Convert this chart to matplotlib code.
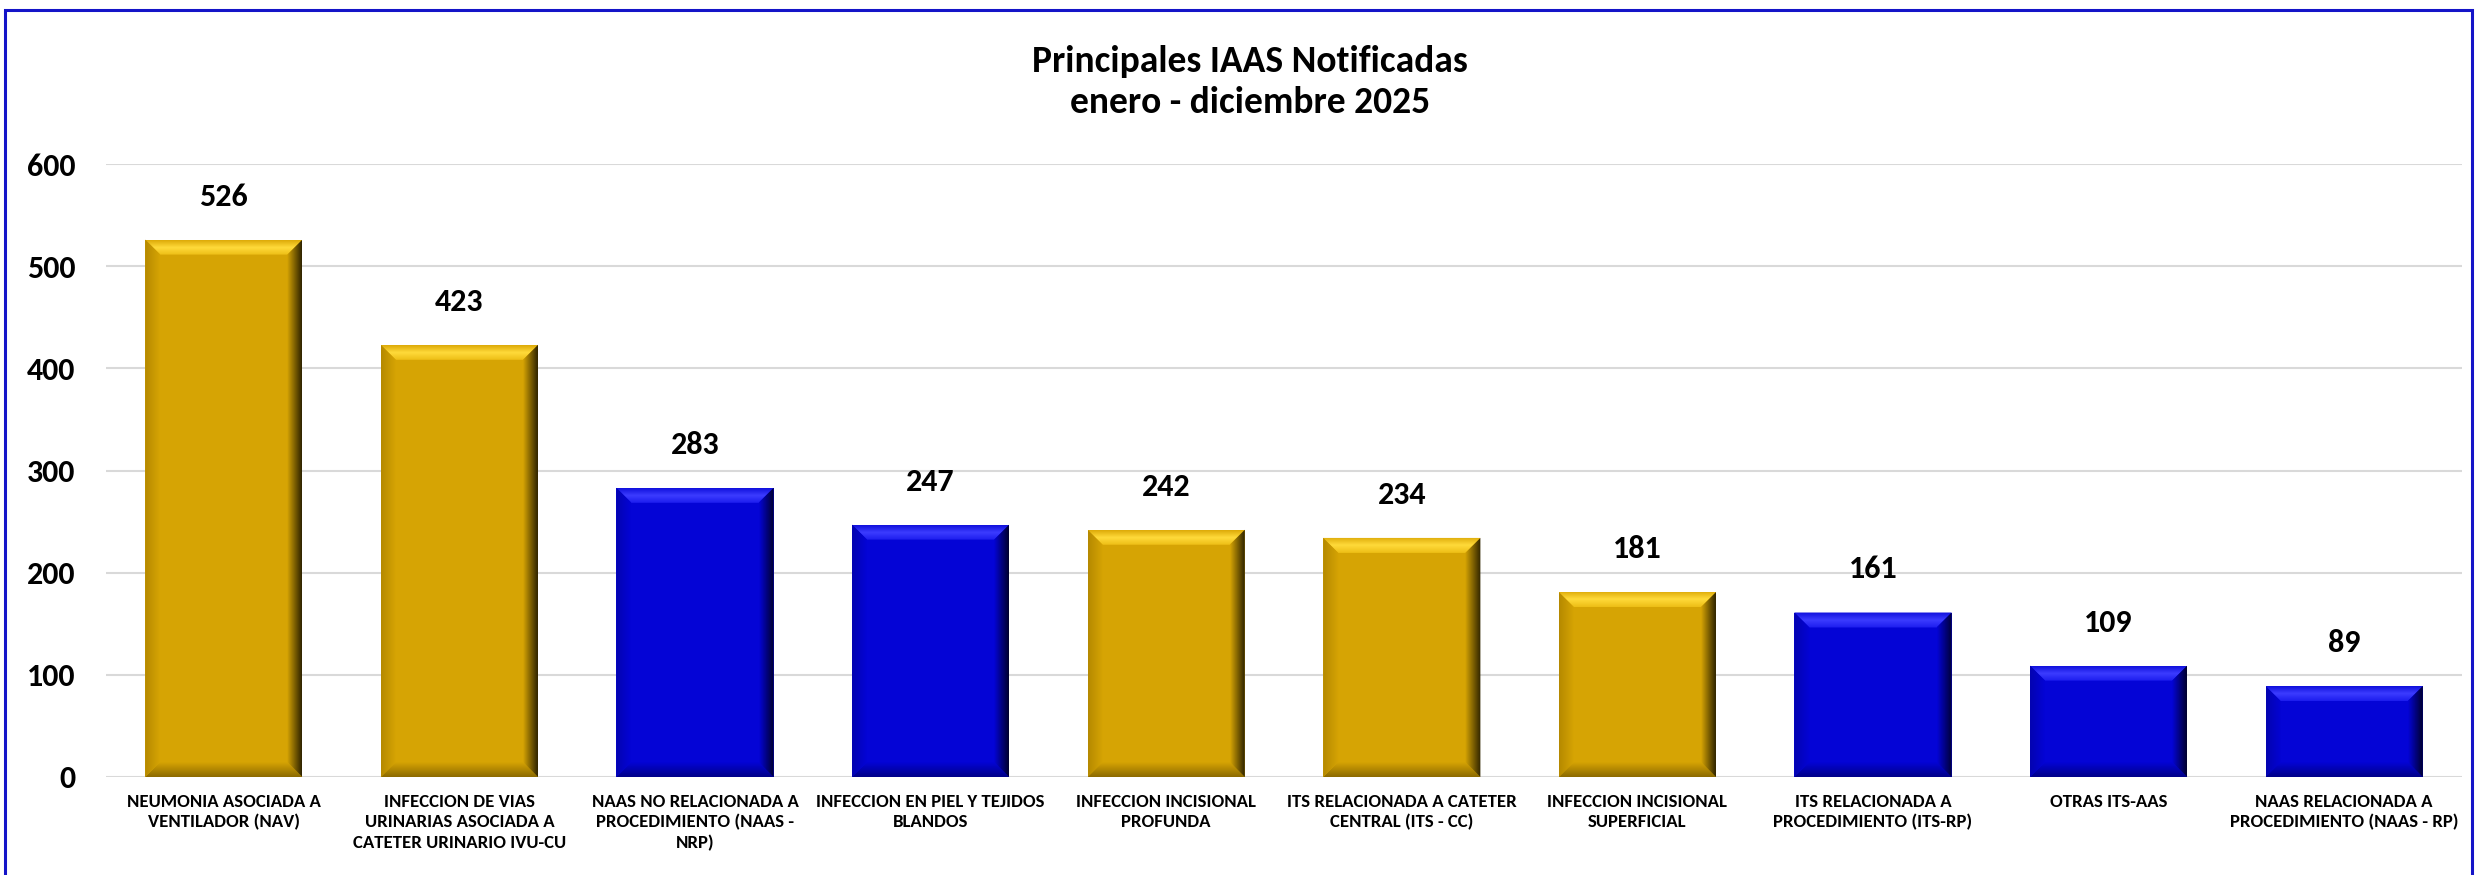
import numpy as np
import matplotlib.pyplot as plt
from matplotlib.patches import Polygon, Rectangle
from matplotlib.colors import to_rgb

# ---- data ----
categorias = [
    "NEUMONIA ASOCIADA A\nVENTILADOR (NAV)",
    "INFECCION DE VIAS\nURINARIAS ASOCIADA A\nCATETER URINARIO IVU-CU",
    "NAAS NO RELACIONADA A\nPROCEDIMIENTO (NAAS -\nNRP)",
    "INFECCION EN PIEL Y TEJIDOS\nBLANDOS",
    "INFECCION INCISIONAL\nPROFUNDA",
    "ITS RELACIONADA A CATETER\nCENTRAL (ITS - CC)",
    "INFECCION INCISIONAL\nSUPERFICIAL",
    "ITS RELACIONADA A\nPROCEDIMIENTO (ITS-RP)",
    "OTRAS ITS-AAS",
    "NAAS RELACIONADA A\nPROCEDIMIENTO (NAAS - RP)",
]
casos = [526, 423, 283, 247, 242, 234, 181, 161, 109, 89]
grupo = ['oro', 'oro', 'azul', 'azul', 'oro', 'oro', 'oro', 'azul', 'azul', 'azul']
yticks = [0, 100, 200, 300, 400, 500, 600]

# paleta: cara, bisel superior (interior, medio, borde), bisel derecho oscuro, inferior, izquierdo
paleta = {
    'oro':  dict(face='#D6A404', top=('#EDBE16', '#FFDA3A', '#DDAA08'),
                 right='#2E2300', bottom='#8C6A00', left='#B58900'),
    'azul': dict(face='#0404D6', top=('#1C1CEE', '#3C3CFF', '#1010DC'),
                 right='#00002E', bottom='#000088', left='#0303B0'),
}

TXT = ['Carlito', 'Lato', 'DejaVu Sans']
CAT = ['Carlito', 'Fira Sans Condensed', 'DejaVu Sans']

W, H = 2476, 875
fig = plt.figure(figsize=(W / 100, H / 100), dpi=100)
ax = fig.add_axes([106 / W, 98 / H, (2462 - 106) / W, (777 - 164) / H])

x = np.arange(len(casos))
ancho = 0.667
bars = ax.bar(x, casos, ancho, color=[paleta[g]['face'] for g in grupo],
              edgecolor='none', zorder=2)

ax.set_xlim(-0.5, len(casos) - 0.5)
ax.set_ylim(0, 600)
ax.set_autoscale_on(False)

# ---- bisel 3D (estilo Excel) ----
px_x = (2462 - 106) / len(casos)   # px por unidad x
px_y = (777 - 164) / 600           # px por unidad y
bx = 15 / px_x
by = 15 / px_y


def degradado(poly_xy, stops, extent, vertical):
    poly = Polygon(poly_xy, closed=True, facecolor='none', edgecolor='none')
    ax.add_patch(poly)
    n = 64
    t = np.linspace(0, 1, n)
    cols = np.array([to_rgb(c) for c in stops])
    pos = np.linspace(0, 1, len(stops))
    img = np.stack([np.interp(t, pos, cols[:, k]) for k in range(3)], axis=-1)
    img = img[:, None, :] if vertical else img[None, :, :]
    im = ax.imshow(img, extent=extent, origin='lower', aspect='auto',
                   interpolation='bilinear', zorder=3)
    im.set_clip_path(poly)


for b, g in zip(bars, grupo):
    p = paleta[g]
    x0, x1 = b.get_x(), b.get_x() + b.get_width()
    top = b.get_height()
    # superior
    degradado([(x0, top), (x1, top), (x1 - bx, top - by), (x0 + bx, top - by)],
              [p['top'][0], p['top'][1], p['top'][2]], (x0, x1, top - by, top), True)
    # inferior
    degradado([(x0, 0), (x1, 0), (x1 - bx, by), (x0 + bx, by)],
              [p['bottom'], p['face']], (x0, x1, 0, by), True)
    # derecho
    degradado([(x1, 0), (x1, top), (x1 - bx, top - by), (x1 - bx, by)],
              [p['face'], p['right']], (x1 - bx, x1, 0, top), False)
    # izquierdo
    degradado([(x0, 0), (x0, top), (x0 + bx, top - by), (x0 + bx, by)],
              [p['left'], p['face']], (x0, x0 + bx, 0, top), False)

# etiquetas de valor
for xi, v in zip(x, casos):
    ax.annotate(f'{v}', (xi, v), xytext=(0, 31), textcoords='offset points',
                ha='center', va='center', fontsize=23, fontweight='bold',
                family=TXT, color='black')

# ejes
ax.set_yticks(yticks)
ax.set_xticks(x)
ax.set_xticklabels(categorias, fontsize=13.5, fontweight='bold', family=CAT,
                   linespacing=1.35, va='top')
for lab in ax.get_yticklabels():
    lab.set_fontsize(23)
    lab.set_fontweight('bold')
    lab.set_family(TXT)
ax.tick_params(axis='y', length=0, pad=22)
ax.tick_params(axis='x', length=0, pad=12)
ax.grid(axis='y', color='#D9D9D9', linewidth=1.5, zorder=0)
ax.set_axisbelow(True)
for s in ax.spines.values():
    s.set_visible(False)

# titulo
fig.text(1250 / W, 1 - 82 / H, 'Principales IAAS Notificadas\nenero - diciembre 2025',
         ha='center', va='center', fontsize=27, fontweight='bold', family=TXT,
         linespacing=1.3)

# borde azul
fig.patches.append(Rectangle((5 / W, -0.05), (2472 - 5) / W, 1 - 10 / H + 0.05,
                             transform=fig.transFigure, fill=False,
                             edgecolor='#1414C8', linewidth=2.2))

plt.savefig('out.png', dpi=100, facecolor='white')
